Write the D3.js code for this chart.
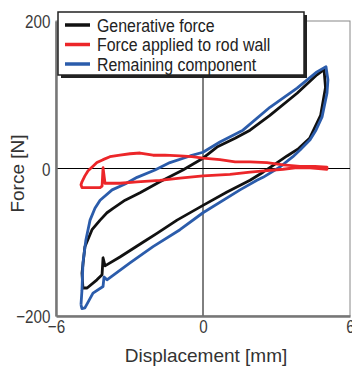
<!DOCTYPE html>
<html>
<head>
<meta charset="utf-8">
<script src="https://cdn.jsdelivr.net/npm/d3@7"></script>
<style>
  body { margin: 0; background: #fff; }
  svg { display: block; }
  .tick-label { font-family: "Liberation Sans", Arial, sans-serif; font-size: 19px; fill: #3a3a3a; }
  .axis-title { font-family: "Liberation Sans", Arial, sans-serif; font-size: 19px; fill: #333; }
  .legend-text { font-family: "Liberation Sans", Arial, sans-serif; font-size: 18.5px; fill: #222; }
</style>
</head>
<body>
<svg id="chart" width="352" height="370"></svg>
<script>
// displacement [mm], force [N]
const generative = [
  [-4.90, -162], [-4.94, -142], [-4.82, -106], [-4.53, -83], [-4.20, -70], [-3.92, -60],
  [-3.67, -54], [-3.18, -43], [-2.57, -33], [-1.76, -18], [-0.82, -2], [0, 14],
  [0.57, 29], [1.31, 41], [1.92, 52], [2.73, 72], [3.84, 102], [4.65, 127], [4.94, 134],
  [5.00, 110], [4.80, 72], [4.35, 41], [3.90, 27], [3.43, 17], [2.94, 6], [2.45, -5],
  [1.92, -16], [0.98, -32], [0, -50], [-1.06, -70], [-1.88, -88], [-2.45, -100],
  [-3.39, -120], [-4.00, -132], [-4.08, -121], [-4.12, -144], [-4.33, -151], [-4.73, -162], [-4.90, -162]
];

const rodWall = [
  [-4.94, -18], [-4.82, -10], [-4.69, -3], [-4.49, 3], [-4.33, 8], [-4.08, 12], [-3.80, 16],
  [-3.39, 18], [-2.98, 20], [-2.57, 21], [-2.04, 18], [-1.55, 18], [-0.94, 17], [-0.45, 16],
  [0, 14], [0.69, 12], [1.31, 9], [1.92, 9], [2.61, 8], [3.27, 5], [3.96, 3], [4.57, 3],
  [5.06, 2], [5.06, -1], [4.37, 1], [3.76, 1], [3.27, -1], [2.61, -3], [1.92, -5],
  [1.10, -8], [0, -10], [-0.94, -13], [-1.76, -16], [-2.69, -18], [-3.39, -20], [-4.00, -20],
  [-4.08, 1], [-4.12, -24], [-4.20, -26], [-4.61, -26], [-4.94, -26], [-4.98, -22], [-4.94, -18]
];

const remaining = [
  [-4.98, -185], [-4.94, -165], [-4.90, -128], [-4.78, -97], [-4.61, -70], [-4.41, -54],
  [-4.20, -43], [-3.71, -29], [-3.18, -21], [-2.69, -12], [-1.96, -2], [-1.35, 8],
  [-0.53, 17], [0, 22], [0.69, 36], [1.63, 52], [2.73, 83], [3.84, 109], [4.65, 131],
  [5.02, 138], [5.10, 120], [5.06, 102], [4.86, 70], [4.61, 52], [4.37, 39], [3.96, 25],
  [3.67, 16], [3.14, 2], [2.45, -12], [2.20, -16], [1.51, -29], [0, -60], [-0.94, -83],
  [-2.04, -106], [-2.98, -128], [-3.92, -151], [-4.04, -147], [-4.08, -160], [-4.49, -169],
  [-4.82, -189], [-4.94, -190], [-4.98, -185]
];

const xTicks = [-6, 0, 6];
const yTicks = [-200, 0, 200];

const series = [
  { name: 'Generative force', color: '#111111', data: generative },
  { name: 'Force applied to rod wall', color: '#ec2629', data: rodWall },
  { name: 'Remaining component', color: '#2b5cab', data: remaining }
];

const svg = d3.select('#chart');
const plot = { left: 56, right: 350, top: 21, bottom: 316 };

const x = d3.scaleLinear().domain([-6, 6]).range([plot.left, plot.right]);
const y = d3.scaleLinear().domain([-200, 200]).range([plot.bottom, plot.top]);

const fmt = d => d3.format('d')(d).replace('-', '\u2212');

// frame
svg.append('rect')
  .attr('x', plot.left).attr('y', plot.top)
  .attr('width', plot.right - plot.left).attr('height', plot.bottom - plot.top)
  .attr('fill', 'none').attr('stroke', '#888').attr('stroke-width', 1);

// zero lines
svg.append('line')
  .attr('x1', x(0)).attr('x2', x(0)).attr('y1', plot.top).attr('y2', plot.bottom)
  .attr('stroke', '#000').attr('stroke-width', 1);
svg.append('line')
  .attr('x1', plot.left).attr('x2', plot.right).attr('y1', y(0)).attr('y2', y(0))
  .attr('stroke', '#000').attr('stroke-width', 1);

// left and bottom axes (labels squeezed to look condensed)
svg.append('g')
  .attr('transform', `translate(${plot.left},0)`)
  .call(d3.axisLeft(y).tickValues(yTicks).tickSize(0).tickFormat(fmt))
  .call(g => g.select('.domain').attr('stroke', '#777').attr('stroke-width', 2.5))
  .call(g => g.selectAll('text').attr('class', 'tick-label').attr('fill', null)
    .attr('x', -7).attr('dy', '0.36em').attr('transform', 'scale(0.8,1)'));

svg.append('g')
  .attr('transform', `translate(0,${plot.bottom})`)
  .call(d3.axisBottom(x).tickValues(xTicks).tickSize(0).tickFormat(fmt))
  .call(g => g.select('.domain').attr('stroke', '#777').attr('stroke-width', 2.5))
  .call(g => g.selectAll('text').attr('class', 'tick-label').attr('fill', null)
    .attr('y', 4).attr('dy', '0.71em').attr('transform', 'scale(0.8,1)'));

svg.append('text')
  .attr('class', 'axis-title')
  .attr('text-anchor', 'middle')
  .attr('transform', `translate(24,${(plot.top + plot.bottom) / 2 + 5}) rotate(-90)`)
  .text('Force [N]');

svg.append('text')
  .attr('class', 'axis-title')
  .attr('text-anchor', 'middle')
  .attr('x', 206).attr('y', 362)
  .text('Displacement [mm]');

// curves: black, blue, red on top
const line = d3.line().x(d => x(d[0])).y(d => y(d[1])).curve(d3.curveLinear);
[series[0], series[2], series[1]].forEach(s => {
  svg.append('path')
    .datum(s.data)
    .attr('fill', 'none')
    .attr('stroke', s.color)
    .attr('stroke-width', 2.8)
    .attr('stroke-linejoin', 'round')
    .attr('d', line);
});

// legend
const lg = svg.append('g').attr('transform', 'translate(58,12)');
lg.append('rect').attr('x', 3).attr('y', 3).attr('width', 246).attr('height', 63).attr('fill', '#222');
lg.append('rect').attr('width', 246).attr('height', 63)
  .attr('fill', '#fff').attr('stroke', '#222').attr('stroke-width', 1.5);
series.forEach((s, i) => {
  const cy = 13 + i * 19.5;
  lg.append('line')
    .attr('x1', 7).attr('x2', 32).attr('y1', cy).attr('y2', cy)
    .attr('stroke', s.color).attr('stroke-width', 3.5);
  lg.append('text')
    .attr('class', 'legend-text')
    .attr('transform', `translate(39,${cy}) scale(0.86,1)`)
    .attr('dy', '0.36em')
    .text(s.name);
});
</script>
</body>
</html>
